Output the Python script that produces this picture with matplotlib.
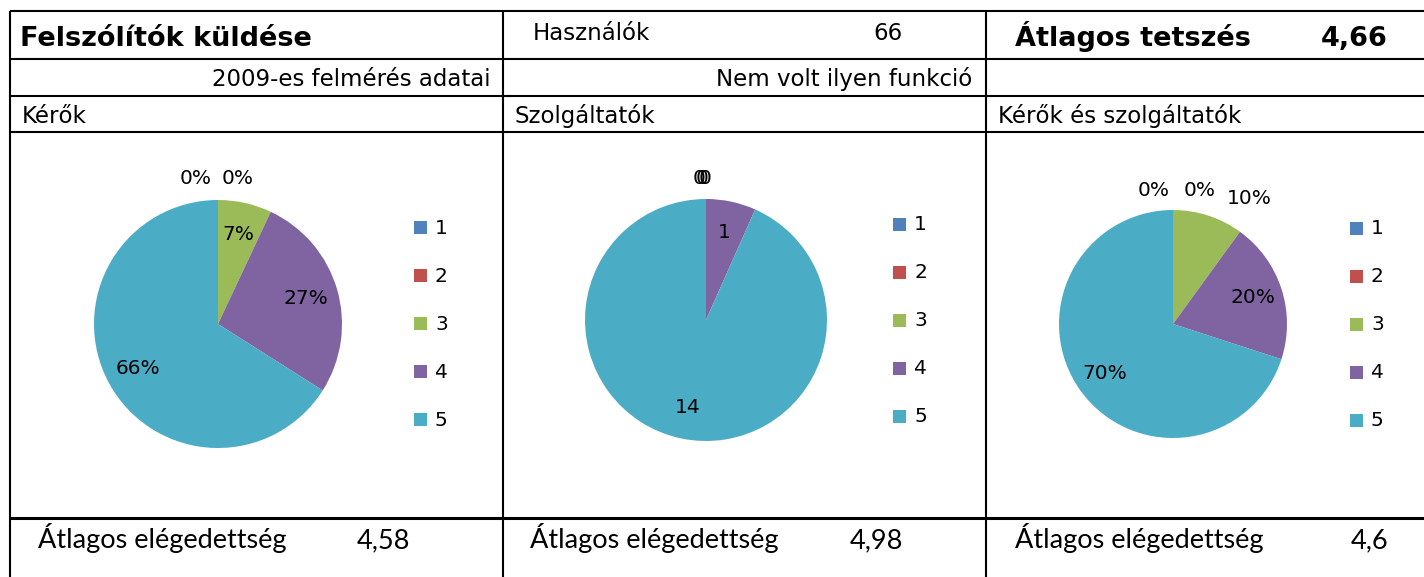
import matplotlib
matplotlib.use('Agg')
import matplotlib.pyplot as plt
import numpy as np

# data
categories = ['1', '2', '3', '4', '5']
kerok_pct = [0, 0, 7, 27, 66]
szolg_counts = [0, 0, 0, 1, 14]
mind_pct = [0, 0, 10, 20, 70]
colors = ['#4F81BD', '#C0504D', '#9BBB59', '#8064A2', '#4BACC6']

title = 'Felszólítók küldése'
users_label, users_value = 'Használók', '66'
tetszes_label, tetszes_value = 'Átlagos tetszés', '4,66'
notes = ['2009-es felmérés adatai', 'Nem volt ilyen funkció', '']
groups = ['Kérők', 'Szolgáltatók', 'Kérők és szolgáltatók']
satisfaction = ['4,58', '4,98', '4,6']

W, H = 1424, 577
plt.rcParams['font.family'] = ['DejaVu Sans']

fig = plt.figure(figsize=(W / 100, H / 100), dpi=100)
ax = fig.add_axes([0, 0, 1, 1])
ax.set_xlim(0, W)
ax.set_ylim(H, 0)
ax.axis('off')

# table grid
lw = 1.5
for y in [11, 59, 96, 132]:
    ax.plot([10, W], [y, y], color='black', lw=lw, solid_capstyle='butt')
ax.plot([10, W], [518, 518], color='black', lw=2.2, solid_capstyle='butt')
for x in [10, 503, 986]:
    ax.plot([x, x], [11, H], color='black', lw=lw, solid_capstyle='butt')

# header texts
row_size = 16.5
ax.text(20, 46, title, fontsize=19.5, fontweight='bold', va='baseline')
ax.text(533, 40, users_label, fontsize=row_size, va='baseline')
ax.text(903, 40, users_value, fontsize=row_size, va='baseline', ha='right')
ax.text(1015, 46, tetszes_label, fontsize=19.5, fontweight='bold', va='baseline')
ax.text(1388, 46, tetszes_value, fontsize=19.5, fontweight='bold', va='baseline', ha='right')

col_left = [10, 503, 986]
note_right = [490, 972, 1410]
for i in range(3):
    ax.text(note_right[i], 86, notes[i], fontsize=row_size, va='baseline', ha='right')
    ax.text(col_left[i] + 12, 123, groups[i], fontsize=row_size, va='baseline')

narrow = ['Lato', 'DejaVu Sans']
bottom_label_x = [38, 530, 1015]
bottom_value_x = [410, 903, 1388]
for i in range(3):
    ax.text(bottom_label_x[i], 548, 'Átlagos elégedettség', fontsize=19.5,
            va='baseline', family=narrow)
    ax.text(bottom_value_x[i], 548, satisfaction[i], fontsize=19.5,
            va='baseline', ha='right', family=narrow)

# pies: (values, centre px, radius px, percent?, outside slices, zero spread, zero shift)
pies = [
    (kerok_pct, (218, 324), 124, True, [], 0.34, -0.01),
    (szolg_counts, (706, 320), 121, False, [], 0.025, -0.03),
    (mind_pct, (1173, 324), 114, True, [2], 0.40, 0.03),
]
legend_x = [421, 900, 1357]
legend_y0 = [227, 224, 228]
lab_size = 14.5

for k, (vals, (cx, cy), r, pct, outside, spread, shift) in enumerate(pies):
    s = 1.6 * r
    pax = fig.add_axes([(cx - s) / W, 1 - (cy + s) / H, 2 * s / W, 2 * s / H])
    wedges, _ = pax.pie(vals, colors=colors, startangle=90, counterclock=False,
                        radius=1, wedgeprops=dict(linewidth=0))
    pax.set_xlim(-s / r, s / r)
    pax.set_ylim(-s / r, s / r)
    pax.axis('off')
    total = float(sum(vals))
    zeros = [i for i, v in enumerate(vals) if v == 0]
    start = 90.0
    for i, v in enumerate(vals):
        ang = start - v / total * 360 / 2
        start -= v / total * 360
        label = f'{v / total * 100:.0f}%' if pct else f'{v}'
        t = np.radians(ang)
        if v == 0:
            j = zeros.index(i)
            x = (j - (len(zeros) - 1) / 2) * spread + shift
            pax.text(x, 1.17, label, fontsize=lab_size, ha='center', va='center')
        elif i in outside:
            pax.text(1.2 * np.cos(t) + 0.1, 1.2 * np.sin(t) - 0.04, label,
                     fontsize=lab_size, ha='left', va='center')
        else:
            pax.text(0.74 * np.cos(t), 0.74 * np.sin(t), label,
                     fontsize=lab_size, ha='center', va='center')

    # legend
    for i, c in enumerate(categories):
        y = legend_y0[k] + 48 * i
        ax.add_patch(plt.Rectangle((legend_x[k] - 7, y - 6), 13, 13,
                                   facecolor=colors[i], edgecolor='none'))
        ax.text(legend_x[k] + 14, y + 1, c, fontsize=lab_size, va='center')

fig.savefig('out.png', dpi=100)
